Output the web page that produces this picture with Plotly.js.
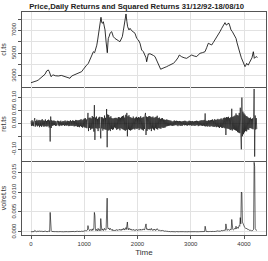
<!DOCTYPE html>
<html><head><meta charset="utf-8">
<script src="https://cdn.plot.ly/plotly-3.0.1.min.js"></script>
<style>html,body{margin:0;padding:0;background:#fff}#c{width:268px;height:261px}</style>
</head><body><div id="c"></div>
<script>
// Price (cl.ts): day index and level
const priceDay = [
0,40,75,110,138,170,200,235,263,294,
325,344,360,376,400,419,460,513,570,638,
690,732,764,810,858,900,951,985,1014,1045,
1077,1100,1127,1150,1171,1195,1214,1235,1252,1268,
1283,1300,1314,1328,1340,1358,1375,1390,1410,1421,
1433,1445,1452,1470,1484,1515,1530,1546,1575,1609,
1640,1671,1695,1715,1735,1753,1770,1784,1800,1815,
1840,1860,1890,1922,1953,1985,2016,2047,2078,2110,
2141,2160,2172,2185,2203,2235,2266,2300,2329,2360,
2391,2415,2435,2460,2485,2515,2548,2580,2610,2640,
2673,2705,2736,2760,2785,2805,2829,2875,2923,2970,
3017,3065,3111,3140,3174,3220,3268,3300,3330,3360,
3393,3425,3455,3490,3518,3550,3581,3610,3643,3660,
3675,3695,3718,3740,3756,3780,3800,3825,3850,3870,
3893,3910,3925,3950,3975,3995,4019,4035,4050,4065,
4081,4100,4125,4150,4175,4185,4194,4215,4238,4250];
const priceVal = [
2410,2450,2500,2580,2650,2800,2940,3050,3150,3440,
3530,3380,3200,2940,3050,3090,3020,3000,3050,2940,
2900,2800,3000,3080,3175,3250,3380,3600,3820,3950,
4110,4400,4700,4950,5130,5050,5280,5700,6160,6800,
7320,7800,8150,7700,7620,7760,7400,7040,6000,5280,
5040,5900,6300,6500,6750,6890,6700,6450,6300,6160,
6100,6010,6200,6450,7000,7620,8000,8440,7800,7320,
7040,7180,6980,6890,6750,6300,6160,5870,5280,5130,
4840,4600,4250,4700,4930,4950,4900,4800,4700,4400,
4110,3800,3590,3650,3680,3750,3820,3900,3960,4000,
4110,4250,4400,4600,4840,4750,4690,4600,4550,4700,
4840,4750,4700,4850,4990,5050,5130,5500,5870,5800,
5720,5950,6160,6400,6600,6900,7180,7400,7680,7500,
7470,7600,7620,7300,7040,6900,6750,6550,6300,5900,
5430,5200,4990,4600,4250,4000,3820,3950,4110,4000,
3960,4150,4400,4600,5130,4700,4550,4650,4700,4610];

// Daily returns (ret.ts), one reading every retStep days
const retStep = 10;
const retVal = [
0.008,-0.010,0.012,-0.009,0.007,-0.011,0.010,0.020,-0.013,0.009,
-0.008,0.014,-0.012,0.010,-0.009,0.013,-0.015,0.011,-0.010,0.012,
-0.014,0.016,-0.009,0.011,-0.013,0.010,-0.012,0.015,-0.011,0.009,
-0.013,0.012,-0.010,0.014,-0.016,0.011,-0.070,0.026,-0.018,0.012,
-0.010,0.009,-0.008,0.011,-0.007,0.009,-0.010,0.008,-0.009,0.007,
0.010,-0.008,0.009,-0.011,0.007,-0.008,0.010,-0.009,0.006,-0.008,
0.009,-0.007,0.008,-0.010,0.011,-0.008,0.007,-0.009,0.010,-0.008,
0.009,-0.011,0.008,-0.010,0.012,-0.009,0.008,-0.010,0.011,-0.009,
0.010,-0.012,0.009,-0.011,0.013,-0.010,0.012,-0.014,0.011,-0.013,
0.012,-0.015,0.013,-0.011,0.016,-0.014,0.012,-0.017,0.015,-0.013,
0.018,-0.016,0.020,-0.017,0.015,-0.019,0.022,0.040,-0.030,0.021,
-0.018,0.022,-0.025,0.019,-0.021,0.028,-0.020,0.024,-0.032,0.070,
-0.064,0.022,-0.018,0.026,-0.021,0.017,-0.030,0.022,-0.019,0.025,
-0.018,-0.058,0.024,-0.020,0.023,-0.028,0.019,-0.022,0.030,-0.024,
0.021,-0.025,0.055,-0.092,0.034,-0.028,0.032,-0.025,0.023,-0.030,
0.027,-0.022,0.020,-0.025,0.018,-0.023,0.020,-0.016,0.021,-0.019,
0.021,-0.025,0.019,-0.022,0.024,-0.020,0.023,-0.027,0.021,-0.019,
0.025,-0.022,0.028,-0.024,0.030,-0.026,0.022,-0.029,0.033,-0.025,
0.040,-0.050,0.027,-0.023,0.031,-0.026,0.024,-0.028,0.022,-0.025,
0.020,-0.023,0.026,-0.021,0.019,-0.024,0.022,-0.020,0.025,-0.022,
0.021,-0.019,0.024,-0.026,0.022,-0.020,0.027,-0.023,0.021,-0.025,
0.023,-0.028,0.025,-0.022,0.030,0.040,-0.045,0.026,-0.029,0.024,
-0.022,0.027,-0.024,0.028,-0.021,0.025,-0.030,0.023,-0.020,0.026,
-0.024,0.021,-0.027,0.023,-0.019,0.025,-0.022,0.029,-0.024,0.020,
-0.018,0.022,-0.020,0.017,-0.021,0.019,-0.016,0.020,-0.018,0.015,
-0.017,0.014,-0.016,0.013,-0.012,0.015,-0.011,0.013,-0.010,0.012,
-0.009,0.011,-0.008,0.010,-0.009,0.007,-0.010,0.008,-0.009,0.011,
-0.008,0.009,-0.007,0.010,-0.008,0.009,-0.011,0.008,-0.007,0.009,
-0.010,0.008,-0.009,0.007,-0.010,0.008,-0.006,0.009,-0.008,0.010,
-0.007,0.009,-0.008,0.006,-0.009,0.008,-0.007,0.010,-0.008,0.009,
-0.007,0.008,-0.010,0.009,-0.008,0.007,-0.009,0.008,-0.010,0.009,
-0.008,0.010,-0.007,0.009,-0.011,0.008,-0.009,0.010,-0.008,0.011,
-0.009,0.012,-0.010,0.011,-0.009,0.013,-0.011,0.038,-0.012,0.010,
-0.011,0.009,-0.013,0.012,-0.010,0.011,-0.014,0.012,-0.010,0.013,
-0.012,0.015,-0.013,0.011,-0.014,0.016,-0.012,0.013,-0.015,0.014,
-0.013,0.017,-0.015,0.014,-0.018,0.016,-0.014,0.019,-0.017,0.015,
-0.018,0.020,-0.016,0.022,-0.019,0.021,-0.045,0.024,-0.020,0.023,
-0.021,0.025,-0.022,0.020,-0.026,0.023,-0.024,0.056,-0.028,0.025,
-0.023,0.027,-0.025,0.030,-0.027,0.038,-0.029,0.032,-0.034,0.030,
-0.036,0.040,-0.038,0.060,-0.045,-0.100,0.099,-0.050,0.045,-0.042,
0.038,-0.035,0.033,-0.030,0.028,-0.031,0.026,-0.024,0.022,-0.025,
0.020,-0.018,0.022,-0.019,0.017,-0.021,0.019,-0.023,0.025,0.132,
-0.128,0.030,-0.024,0.020,-0.022];
const retDay = retVal.map((_, i) => i * retStep);
const sqVal = retVal.map(r => r * r);

// Axis ticks
const xTicks = [0, 1000, 2000, 3000, 4000];
const xTickText = ['0', '1000', '2000', '3000', '4000'];
const clTicks = [3000, 4000, 5000, 6000, 7000, 8000];
const clTickText = ['3000', '', '5000', '', '7000', ''];
const retTicks = [-0.10, -0.05, 0, 0.05, 0.10];
const retTickText = ['-0.10', '', '0.00', '0.05', '0.10'];
const sqTicks = [0, 0.005, 0.010, 0.015];
const sqTickText = ['0.000', '0.005', '0.010', '0.015'];

const FONT = 'Liberation Sans, Arial, sans-serif';
const frame = '#555';
const grid = '#e2e2e2';

const line = w => ({color: '#000', width: w});
const traces = [
  {x: priceDay, y: priceVal, type: 'scatter', mode: 'lines', line: line(0.8), xaxis: 'x', yaxis: 'y', hoverinfo: 'skip'},
  {x: retDay, y: retVal, type: 'scatter', mode: 'lines', line: line(0.6), xaxis: 'x2', yaxis: 'y2', hoverinfo: 'skip'},
  {x: retDay, y: sqVal, type: 'scatter', mode: 'lines', line: line(0.6), xaxis: 'x3', yaxis: 'y3', hoverinfo: 'skip'}
];

const xr = [-169, 4413];
const xBase = (anchor, mir) => ({
  anchor: anchor, range: xr, showline: true, mirror: mir, linecolor: frame, linewidth: 1,
  showgrid: true, gridcolor: grid, gridwidth: 1, zeroline: false, tickvals: xTicks,
  ticktext: xTickText, showticklabels: false, ticks: '', automargin: false, fixedrange: true
});
const yBase = (dom, rng, tv, tt, title) => ({
  domain: dom, range: rng, tickvals: tv, ticktext: tt, ticks: 'outside', ticklen: 3, tickwidth: 1,
  tickcolor: frame, tickangle: -90, tickfont: {size: 6, color: '#333', family: FONT},
  showline: true, mirror: true, linecolor: frame, linewidth: 1, showgrid: true, gridcolor: grid,
  zeroline: false, automargin: false, fixedrange: true,
  title: {text: title, font: {size: 7, color: '#333', family: FONT}, standoff: 3}
});

const x3 = xBase('y3', false);
x3.showticklabels = true; x3.ticks = 'outside'; x3.ticklen = 3; x3.tickcolor = frame;
x3.tickfont = {size: 6, color: '#333', family: FONT};
x3.title = {text: 'Time', font: {size: 8, color: '#333', family: FONT}, standoff: 3};

const layout = {
  width: 268, height: 261,
  margin: {l: 22, r: 2, t: 12, b: 26, pad: 0},
  paper_bgcolor: '#fff', plot_bgcolor: '#fff', showlegend: false,
  font: {family: FONT, size: 6, color: '#333'},
  title: {text: '<b>Price,Daily Returns and Squared Returns 31/12/92-18/08/10</b>',
          font: {size: 7.7, color: '#222', family: FONT}, x: 0.51, xref: 'container',
          y: 1 - 6 / 261, yref: 'container', yanchor: 'middle'},
  xaxis: xBase('y', true), xaxis2: xBase('y2', false), xaxis3: x3,
  yaxis: yBase([0.6637, 1], [2035, 8614], clTicks, clTickText, 'cl.ts'),
  yaxis2: yBase([0.3318, 0.6637], [-0.145, 0.1396], retTicks, retTickText, 'ret.ts'),
  yaxis3: yBase([0, 0.3318], [-0.00075, 0.01775], sqTicks, sqTickText, 'volret.ts')
};

Plotly.newPlot('c', traces, layout, {displayModeBar: false, staticPlot: true});
</script></body></html>
